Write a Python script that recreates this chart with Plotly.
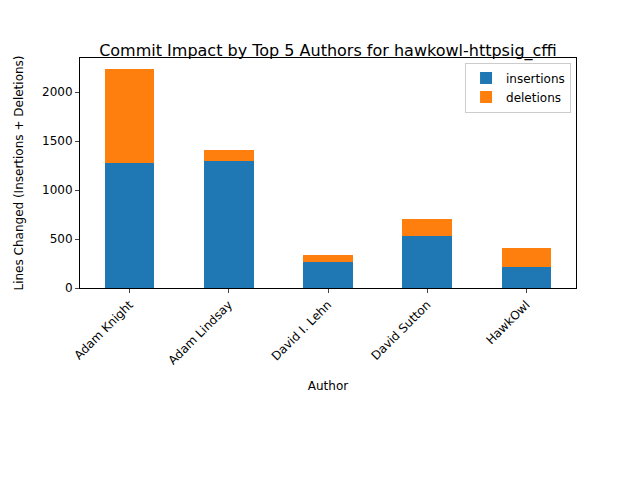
import plotly.graph_objects as go

authors = ["Adam Knight", "Adam Lindsay", "David I. Lehn", "David Sutton", "HawkOwl"]
insertions = [1275, 1295, 265, 530, 214]
deletions = [960, 113, 72, 174, 194]

fig = go.Figure()
fig.add_trace(go.Bar(x=authors, y=insertions, name="insertions", marker_color="#1f77b4",
                     marker_line_width=0, width=0.5))
fig.add_trace(go.Bar(x=authors, y=deletions, name="deletions", marker_color="#ff7f0e",
                     marker_line_width=0, width=0.5))

fig.update_layout(
    barmode="stack",
    width=640, height=480,
    margin=dict(l=72, r=72, t=50, b=200),
    plot_bgcolor="white", paper_bgcolor="white",
    font=dict(family="DejaVu Sans", size=12, color="black"),
    title=dict(text="Commit Impact by Top 5 Authors for hawkowl-httpsig_cffi",
               x=0.5, xanchor="center", xref="paper", y=0.9, yanchor="bottom",
               font=dict(size=16)),
    legend=dict(x=0.99, y=0.98, xanchor="right", yanchor="top",
                bordercolor="#cccccc", borderwidth=1, bgcolor="white",
                traceorder="normal"),
)
fig.update_xaxes(title_text="Author", title_font_size=12, tickangle=-45, showline=True, mirror=True,
                 linecolor="black", ticks="outside", ticklen=4, showgrid=False)
fig.update_yaxes(title_text="Lines Changed (Insertions + Deletions)", title_font_size=12,
                 range=[0, 2347], tickvals=[0, 500, 1000, 1500, 2000], showline=True, mirror=True,
                 linecolor="black", ticks="outside", ticklen=4, showgrid=False, zeroline=False)

fig.write_html("out.html")
